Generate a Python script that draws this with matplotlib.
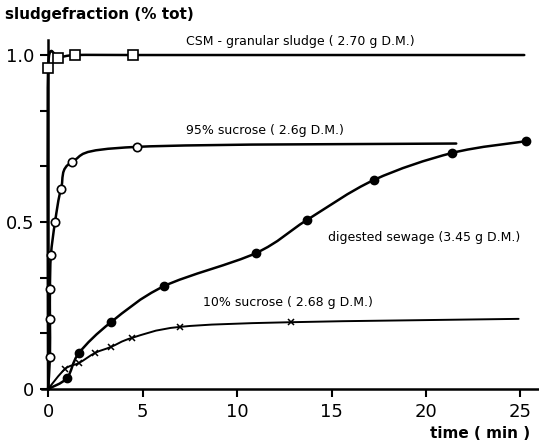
import numpy as np
import matplotlib
matplotlib.use("Agg")
import matplotlib.pyplot as plt
from matplotlib.path import Path
from matplotlib.patches import PathPatch

# --- data (time in min, sludge fraction of total) ---
csm_t = [0.0, 0.0, 0.53, 1.4, 4.5]
csm_y = [0.0, 0.96, 0.99, 1.0, 1.0]
csm_end = (25.2, 1.0)

suc95_t = [0.1, 0.1, 0.1, 0.15, 0.37, 0.69, 1.27, 4.7]
suc95_y = [0.096, 0.21, 0.30, 0.40, 0.50, 0.60, 0.68, 0.725]
suc95_end = (21.6, 0.735)

sew_t = [1.0, 1.64, 3.33, 6.14, 11.0, 13.7, 17.25, 21.4, 25.3]
sew_y = [0.033, 0.108, 0.20, 0.308, 0.407, 0.506, 0.626, 0.707, 0.742]

suc10_t = [0.9, 1.64, 2.49, 3.33, 4.44, 6.98, 12.86]
suc10_y = [0.06, 0.078, 0.108, 0.126, 0.153, 0.186, 0.20]
suc10_end = (24.9, 0.21)

x_ticks = [0, 5, 10, 15, 20, 25]
y_ticks = [0, 1/6, 2/6, 0.5, 4/6, 5/6, 1.0]
y_ticklabels = ["0", "", "", "0.5", "", "", "1.0"]

plt.rcParams['font.family'] = ['DejaVu Sans']

fig = plt.figure(figsize=(5.39, 4.47), dpi=100)
ax = fig.add_axes([42 / 539, 58 / 447, 497 / 539, 349 / 447])
ax.set_xlim(-0.32, 25.98)
ax.set_ylim(0, 1.045)


def smooth_path(xs, ys, tension=0.5):
    """Cubic Bezier path through the given points (Catmull-Rom style)."""
    pts = np.column_stack([xs, ys]).astype(float)
    verts = [pts[0]]
    codes = [Path.MOVETO]
    n = len(pts)
    for i in range(n - 1):
        p0 = pts[i - 1] if i > 0 else pts[i]
        p1 = pts[i]
        p2 = pts[i + 1]
        p3 = pts[i + 2] if i + 2 < n else pts[i + 1]
        c1 = p1 + (p2 - p0) * tension / 3
        c2 = p2 - (p3 - p1) * tension / 3
        verts += [c1, c2, p2]
        codes += [Path.CURVE4] * 3
    return Path(verts, codes)


def curve(xs, ys, lw=1.8, tension=0.5):
    patch = PathPatch(smooth_path(xs, ys, tension), fill=False,
                      lw=lw, edgecolor="black", zorder=2,
                      transform=ax.transData, capstyle="round")
    ax.add_patch(patch)


# CSM granular sludge
curve([0.0] + csm_t[1:] + [csm_end[0]], [0.0] + csm_y[1:] + [csm_end[1]], tension=0.3)
ax.plot(csm_t[1:], csm_y[1:], ls="none", marker="s", ms=6.5, mfc="white",
        mec="black", mew=1.2, zorder=3)

# 95% sucrose
curve([0.0] + suc95_t + [suc95_end[0]], [0.0] + suc95_y + [suc95_end[1]])
ax.plot(suc95_t, suc95_y, ls="none", marker="o", ms=6, mfc="white",
        mec="black", mew=1.2, zorder=3)

# digested sewage
curve([0.0] + sew_t, [0.0] + sew_y)
ax.plot(sew_t, sew_y, ls="none", marker="o", ms=6, mfc="black",
        mec="black", zorder=3)

# 10% sucrose
curve([0.0] + suc10_t + [suc10_end[0]], [0.0] + suc10_y + [suc10_end[1]], lw=1.4)
ax.plot(suc10_t, suc10_y, ls="none", marker="x", ms=4.5, mec="black",
        mew=1.1, zorder=3)

# axes styling
for s in ("top", "right"):
    ax.spines[s].set_visible(False)
ax.spines["left"].set_position(("data", 0))
ax.spines["left"].set_linewidth(1.8)
ax.spines["bottom"].set_linewidth(1.8)
ax.set_xticks(x_ticks)
ax.set_xticklabels([str(v) for v in x_ticks])
ax.set_yticks(y_ticks)
ax.set_yticklabels(y_ticklabels)
ax.tick_params(axis="both", direction="out", length=6, width=1.5,
               labelsize=13, pad=4)

# series labels
lab_kw = dict(fontsize=9, color="black", ha="left", va="center")
ax.text(7.3, 1.042, "CSM - granular sludge ( 2.70 g D.M.)", **lab_kw)
ax.text(7.3, 0.775, "95% sucrose ( 2.6g D.M.)", **lab_kw)
ax.text(14.8, 0.455, "digested sewage (3.45 g D.M.)", **lab_kw)
ax.text(8.2, 0.26, "10% sucrose ( 2.68 g D.M.)", **lab_kw)

fig.text(5 / 539, 1 - 15 / 447, "sludgefraction (% tot)", fontsize=11,
         fontweight="bold", ha="left", va="center")
fig.text(530 / 539, 1 - 433 / 447, "time ( min )", fontsize=11,
         fontweight="bold", ha="right", va="center")

fig.savefig("out.png", dpi=100)
